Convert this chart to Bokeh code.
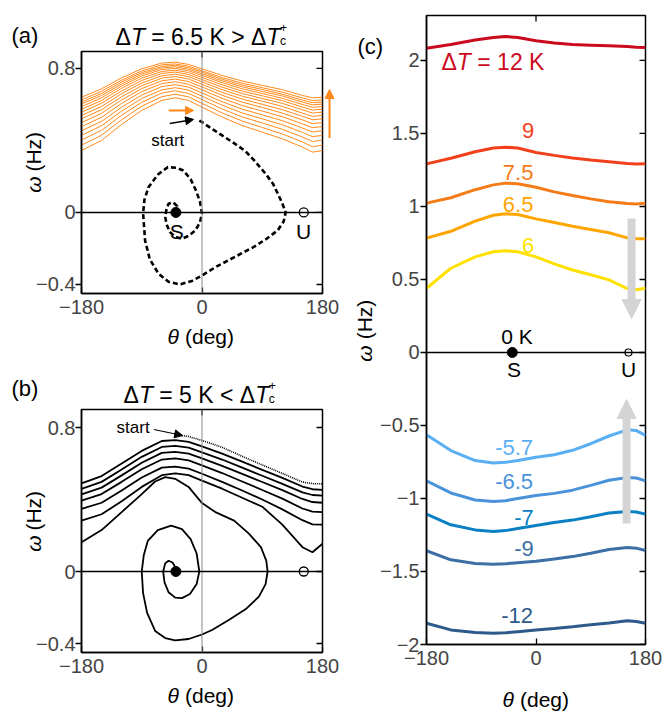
import math
from bokeh.plotting import figure
from bokeh.models import Range1d, FixedTicker, Label, Arrow, NormalHead, Span
from bokeh.layouts import row, column
from bokeh.embed import file_html
from bokeh.resources import INLINE

FONT = "Liberation Sans"

# ------------------------------------------------------------------ data
# fixed points (deg)
S_theta = -39
U_theta = 152

# (a) orange trajectory passes, omega at orange_theta
orange_theta = [-180, -150, -120, -90, -60, -40, -20, 0, 30, 60, 90, 120, 150, 165, 180]
orange_omega = [
    [0.344, 0.400, 0.489, 0.567, 0.622, 0.637, 0.622, 0.585, 0.530, 0.483, 0.446, 0.409, 0.363, 0.335, 0.344],
    [0.374, 0.429, 0.515, 0.590, 0.643, 0.657, 0.642, 0.606, 0.553, 0.508, 0.472, 0.436, 0.392, 0.365, 0.374],
    [0.402, 0.456, 0.540, 0.612, 0.663, 0.676, 0.661, 0.627, 0.575, 0.531, 0.497, 0.462, 0.419, 0.394, 0.402],
    [0.428, 0.482, 0.563, 0.633, 0.681, 0.693, 0.679, 0.646, 0.596, 0.553, 0.520, 0.487, 0.445, 0.421, 0.428],
    [0.454, 0.506, 0.585, 0.652, 0.699, 0.710, 0.696, 0.664, 0.615, 0.574, 0.542, 0.510, 0.469, 0.447, 0.454],
    [0.477, 0.529, 0.606, 0.671, 0.716, 0.726, 0.712, 0.681, 0.634, 0.594, 0.563, 0.532, 0.492, 0.471, 0.477],
    [0.499, 0.551, 0.625, 0.688, 0.731, 0.741, 0.727, 0.697, 0.651, 0.613, 0.583, 0.552, 0.514, 0.494, 0.499],
    [0.520, 0.571, 0.643, 0.704, 0.746, 0.755, 0.741, 0.712, 0.667, 0.630, 0.601, 0.571, 0.534, 0.515, 0.520],
    [0.539, 0.589, 0.660, 0.719, 0.759, 0.768, 0.754, 0.726, 0.682, 0.646, 0.618, 0.589, 0.552, 0.534, 0.539],
    [0.557, 0.607, 0.675, 0.733, 0.772, 0.780, 0.766, 0.738, 0.696, 0.661, 0.633, 0.606, 0.570, 0.552, 0.557],
    [0.573, 0.622, 0.690, 0.746, 0.783, 0.790, 0.777, 0.750, 0.709, 0.674, 0.648, 0.621, 0.585, 0.569, 0.573],
    [0.588, 0.637, 0.703, 0.758, 0.794, 0.800, 0.787, 0.761, 0.721, 0.687, 0.661, 0.634, 0.600, 0.584, 0.588],
    [0.602, 0.650, 0.714, 0.768, 0.803, 0.809, 0.796, 0.770, 0.731, 0.698, 0.672, 0.647, 0.613, 0.598, 0.602],
    [0.613, 0.661, 0.725, 0.777, 0.811, 0.817, 0.804, 0.779, 0.740, 0.708, 0.683, 0.657, 0.624, 0.610, 0.613],
    [0.625, 0.673, 0.735, 0.786, 0.820, 0.825, 0.812, 0.787, 0.749, 0.718, 0.693, 0.668, 0.636, 0.622, 0.625],
    [0.640, 0.687, 0.748, 0.798, 0.830, 0.835, 0.822, 0.798, 0.761, 0.730, 0.706, 0.682, 0.650, 0.637, 0.640],
]

# (a) black dashed trajectory spiralling into S
a_traj_theta = [-4, 19, 49, 65, 78, 95, 106, 113, 120, 125, 122, 113, 95, 78, 50, 20, 0, -15, -33, -50,
                -65, -78, -85, -88, -86, -80, -66, -51, -38, -28, -17, -9, -3, 0, -3, -10, -20, -30,
                -40, -48, -53, -55, -53, -50, -43, -37, -39]
a_traj_omega = [0.511, 0.455, 0.382, 0.34, 0.289, 0.215, 0.16, 0.106, 0.05, 0.0, -0.05, -0.1, -0.15, -0.19,
                -0.245, -0.304, -0.35, -0.38, -0.4, -0.385, -0.34, -0.26, -0.156, -0.005, 0.07, 0.14, 0.21,
                0.252, 0.248, 0.233, 0.185, 0.122, 0.06, -0.005, -0.055, -0.1, -0.13, -0.146, -0.135,
                -0.109, -0.065, -0.024, 0.02, 0.048, 0.056, 0.035, 0.0]

# (b) trajectory: first (dotted) pass from the start point
b_start_theta = [-30, -20, 0, 30, 60, 90, 120, 150, 165, 180]
b_start_omega = [0.755, 0.75, 0.728, 0.69, 0.64, 0.592, 0.545, 0.497, 0.488, 0.487]
# (b) later full passes
b_pass_theta = [-180, -150, -120, -90, -60, -40, -20, 0, 30, 60, 90, 120, 150, 165, 180]
b_pass_omega = [
    [0.490, 0.530, 0.600, 0.670, 0.725, 0.730, 0.720, 0.695, 0.655, 0.610, 0.565, 0.520, 0.472, 0.457, 0.454],
    [0.459, 0.498, 0.567, 0.637, 0.692, 0.698, 0.688, 0.662, 0.622, 0.577, 0.532, 0.487, 0.440, 0.425, 0.422],
    [0.428, 0.466, 0.534, 0.604, 0.659, 0.665, 0.655, 0.628, 0.587, 0.542, 0.497, 0.452, 0.403, 0.386, 0.382],
    [0.394, 0.430, 0.498, 0.568, 0.622, 0.628, 0.617, 0.590, 0.547, 0.500, 0.453, 0.405, 0.350, 0.333, 0.330],
    [0.348, 0.382, 0.450, 0.522, 0.577, 0.583, 0.572, 0.543, 0.498, 0.450, 0.400, 0.345, 0.285, 0.262, 0.260],
    [0.283, 0.318, 0.390, 0.470, 0.535, 0.545, 0.535, 0.505, 0.460, 0.410, 0.360, 0.260, 0.135, 0.107, 0.154],
]
# (b) last pass and spiral into S
b_spiral_theta = [-180, -150, -120, -90, -70, -55, -40, -20, 0, 20, 48, 70, 88, 96, 98, 95, 85, 65, 40, 15, 0,
                  -20, -40, -55, -70, -82, -88, -90, -87, -81, -66, -46, -30, -17, -8, -4, -8, -18, -30, -40,
                  -50, -56, -58, -55, -50, -44, -40, -39]
b_spiral_omega = [0.163, 0.23, 0.33, 0.43, 0.5, 0.524, 0.515, 0.47, 0.38, 0.33, 0.283, 0.21, 0.135, 0.06, 0.0,
                  -0.07, -0.14, -0.21, -0.27, -0.325, -0.35, -0.375, -0.383, -0.37, -0.33, -0.23, -0.12, 0.0,
                  0.09, 0.17, 0.23, 0.255, 0.235, 0.18, 0.1, 0.0, -0.07, -0.125, -0.148, -0.145, -0.115,
                  -0.06, 0.0, 0.045, 0.06, 0.05, 0.025, 0.0]

# (c) running-state curves for several temperature differences
c_theta = [-180, -140, -100, -70, -50, -30, 0, 30, 60, 90, 120, 150, 165, 180]
c_labels = ["12", "9", "7.5", "6.5", "6", "-5.7", "-6.5", "-7", "-9", "-12"]
c_omega = [
    [2.084, 2.11, 2.14, 2.158, 2.164, 2.158, 2.135, 2.12, 2.11, 2.105, 2.1, 2.095, 2.09, 2.089],
    [1.292, 1.33, 1.375, 1.40, 1.406, 1.40, 1.37, 1.35, 1.332, 1.318, 1.306, 1.294, 1.291, 1.292],
    [1.023, 1.06, 1.115, 1.148, 1.16, 1.155, 1.132, 1.10, 1.075, 1.052, 1.032, 1.02, 1.017, 1.023],
    [0.783, 0.83, 0.90, 0.94, 0.95, 0.945, 0.915, 0.89, 0.865, 0.843, 0.82, 0.785, 0.779, 0.779],
    [0.44, 0.577, 0.655, 0.69, 0.697, 0.69, 0.655, 0.607, 0.565, 0.532, 0.497, 0.438, 0.43, 0.44],
    [-0.564, -0.672, -0.74, -0.757, -0.752, -0.74, -0.718, -0.70, -0.67, -0.625, -0.572, -0.53, -0.535, -0.568],
    [-0.879, -0.962, -1.01, -1.02, -1.015, -1.0, -0.98, -0.965, -0.943, -0.91, -0.875, -0.856, -0.86, -0.879],
    [-1.107, -1.18, -1.215, -1.226, -1.22, -1.205, -1.185, -1.165, -1.148, -1.125, -1.10, -1.089, -1.092, -1.107],
    [-1.358, -1.42, -1.445, -1.45, -1.447, -1.44, -1.43, -1.415, -1.398, -1.375, -1.35, -1.336, -1.34, -1.356],
    [-1.854, -1.90, -1.918, -1.923, -1.92, -1.912, -1.90, -1.89, -1.878, -1.865, -1.852, -1.838, -1.842, -1.854],
]
c_colors = ["#CC0A1E", "#F2401C", "#F57B19", "#FFA500", "#FFE100",
            "#5AAEF2", "#4A92DA", "#0A80C4", "#3B6FA6", "#2D5A8A"]

# tick labels
ab_xticks = [-180, 0, 180]
ab_xtick_labels = ["\u2212180", "0", "180"]
ab_yticks = [-0.4, 0, 0.8]
ab_ytick_labels = ["\u22120.4", "0", "0.8"]
c_yticks = [-2, -1.5, -1, -0.5, 0, 0.5, 1, 1.5, 2]
c_ytick_labels = ["\u22122", "\u22121.5", "\u22121", "\u22120.5", "0", "0.5", "1", "1.5", "2"]
top_ticks = [0]

ORANGE = "#FF8A1C"
GRAY_ARROW = "#D4D4D4"

# ------------------------------------------------------------------ helpers
# page pixel -> data coordinate converters for the plotting boxes (layout only)
def pa(px, py):
    return (-180 + (px - 79) * 360 / 243, (212 - py) / 180)

def pb(px, py):
    return (-180 + (px - 79) * 360 / 243, (571 - py) / 180)

def pc(px, py):
    return (-180 + (px - 425) * 360 / 220, (352 - py) / 146)

def ident(px, py):
    return (px, py)


def make_fig(width, height, ylo, yhi, left, right, top, bottom):
    p = figure(width=width, height=height, x_range=Range1d(-180, 180), y_range=Range1d(ylo, yhi),
               output_backend="svg", toolbar_location=None,
               min_border_left=left, min_border_right=right,
               min_border_top=top, min_border_bottom=bottom)
    p.grid.visible = False
    p.outline_line_color = "black"
    p.outline_line_width = 1.5
    p.background_fill_color = "white"
    p.border_fill_color = None   # transparent margins: the label strip below shows through
    return p


def blank(width, height, x0, y0, transparent=False):
    # text-only strip; its data coordinates are page pixels (y downwards)
    p = figure(width=width, height=height, x_range=Range1d(x0, x0 + width),
               y_range=Range1d(y0 + height, y0), x_axis_type=None, y_axis_type=None,
               output_backend="svg", toolbar_location=None, min_border=0)
    p.outline_line_color = None
    if transparent:
        p.background_fill_color = None
        p.border_fill_color = None
    else:
        p.background_fill_color = "white"
        p.border_fill_color = "white"
    return p


def set_axes(p, xticks, xlabels, yticks, ylabels, yhi, ystand):
    xa = p.xaxis[0]
    xa.ticker = FixedTicker(ticks=xticks)
    xa.major_label_overrides = dict(zip(xticks, xlabels))
    xa.major_tick_in = 6
    xa.major_tick_out = 0
    xa.minor_tick_line_color = None
    xa.major_label_text_font = FONT
    xa.major_label_text_font_size = "20px"
    xa.major_label_standoff = 6
    xa.axis_line_width = 1.5
    xa.major_tick_line_width = 1.3

    ya = p.yaxis[0]
    ya.ticker = FixedTicker(ticks=yticks)
    ya.major_label_overrides = dict(zip(yticks, ylabels))
    ya.major_tick_in = 0
    ya.major_tick_out = 6
    ya.minor_tick_line_color = None
    ya.major_label_text_font = FONT
    ya.major_label_text_font_size = "20px"
    ya.major_label_standoff = ystand
    ya.axis_line_width = 1.5
    ya.major_tick_line_width = 1.3

    # inward ticks on the right and top edges of the box
    p.ray(x=[180] * len(yticks), y=yticks, length=6, length_units="screen", angle=math.pi,
          line_color="black", line_width=1.3)
    p.ray(x=top_ticks, y=[yhi] * len(top_ticks), length=6, length_units="screen", angle=-math.pi / 2,
          line_color="black", line_width=1.3)


def txt(p, conv, px, py, text, size=21, color="black", style="normal",
        align="left", baseline="middle", angle=0.0):
    x, y = conv(px, py)
    p.add_layout(Label(x=x, y=y, text=text, text_font=FONT, text_font_size=f"{size}px",
                       text_color=color, text_font_style=style, text_align=align,
                       text_baseline=baseline, angle=angle))


def arrow(p, conv, p0, p1, color, width, head):
    x0, y0 = conv(*p0)
    x1, y1 = conv(*p1)
    p.add_layout(Arrow(end=NormalHead(size=head, fill_color=color, line_color=color, line_width=1),
                       x_start=x0, y_start=y0, x_end=x1, y_end=y1,
                       line_color=color, line_width=width))


def title_row(p, x0, py, middle, mid_width, size=23):
    txt(p, ident, x0, py, "\u0394", size=size)
    txt(p, ident, x0 + 15.4, py, "T", size=size, style="italic")
    txt(p, ident, x0 + 35.8, py, middle, size=size)
    t2 = x0 + 35.8 + mid_width
    txt(p, ident, t2, py, "T", size=size, style="italic")
    txt(p, ident, t2 + 13.6, py + 4, "c", size=12)
    txt(p, ident, t2 + 13.6, py - 9, "+", size=12)


def xlabel(p, px_center, py, size=21):
    txt(p, ident, px_center - 33, py, "\u03b8", size=size, style="italic")
    txt(p, ident, px_center - 15.5, py, "(deg)", size=size)


def ylabel(p, px_base, py_bottom, size=21):
    txt(p, ident, px_base, py_bottom, "\u03c9", size=size, style="italic",
        baseline="alphabetic", angle=math.pi / 2)
    txt(p, ident, px_base, py_bottom - 24, "(Hz)", size=size,
        baseline="alphabetic", angle=math.pi / 2)

# ------------------------------------------------------------------ panel (a)
ta = blank(340, 49, 0, 0)
txt(ta, ident, 11, 35, "(a)", size=22)
title_row(ta, 115, 36, "= 6.5 K > \u0394", 115.1)

# label strip under the left margin of (a)
al = blank(80, 274, 0, 49)
ylabel(al, 33, 209)

fa = make_fig(307, 274, -0.45, 0.894, 46, 18, 2, 30)
fa.margin = (0, 0, 0, -47)
set_axes(fa, ab_xticks, ab_xtick_labels, ab_yticks, ab_ytick_labels, 0.894, 0)
fa.add_layout(Span(location=0, dimension="height", line_color="#8a8a8a", line_width=1))
fa.add_layout(Span(location=0, dimension="width", line_color="black", line_width=1.4))
fa.multi_line(xs=[orange_theta] * len(orange_omega), ys=orange_omega, line_color=ORANGE, line_width=1)
fa.line(a_traj_theta, a_traj_omega, line_color="black", line_width=2.6, line_dash="5 3")
fa.scatter([S_theta], [0], size=10, color="black")
fa.scatter([U_theta], [0], size=9, fill_color="white", line_color="black", line_width=1.3)
txt(fa, pa, 166, 140, "start", size=17, align="center")
txt(fa, pa, 175, 231, "S", size=21, align="center")
txt(fa, pa, 303, 231, "U", size=21, align="center")
arrow(fa, pa, (167, 110), (192, 110), ORANGE, 2, 8)
arrow(fa, pa, (168, 123), (192, 119), "black", 1.5, 8)

# transparent strip laid over the right margin of (a) for the orange arrow
aa = blank(16, 274, 324, 49, transparent=True)
arrow(aa, ident, (329, 147), (329, 92), ORANGE, 2, 9)
aa.margin = (0, 0, 0, -16)

xla = blank(340, 32, 0, 323)
xlabel(xla, 200, 336)

# ------------------------------------------------------------------ panel (b)
tb = blank(340, 52, 0, 355)
txt(tb, ident, 11, 388, "(b)", size=22)
title_row(tb, 123, 394, "= 5 K < \u0394", 95.9)

bl = blank(80, 275, 0, 407)
ylabel(bl, 33, 568)

fb = make_fig(307, 275, -0.45, 0.9, 46, 18, 2, 30)
fb.margin = (0, 0, 0, -47)
set_axes(fb, ab_xticks, ab_xtick_labels, ab_yticks, ab_ytick_labels, 0.9, 0)
fb.add_layout(Span(location=0, dimension="height", line_color="#8a8a8a", line_width=1))
fb.add_layout(Span(location=0, dimension="width", line_color="black", line_width=1.4))
fb.line(b_start_theta, b_start_omega, line_color="black", line_width=1.6, line_dash="1 1")
fb.multi_line(xs=[b_pass_theta] * len(b_pass_omega), ys=b_pass_omega, line_color="black", line_width=1.8)
fb.line(b_spiral_theta, b_spiral_omega, line_color="black", line_width=1.8)
fb.scatter([S_theta], [0], size=10, color="black")
fb.scatter([U_theta], [0], size=9, fill_color="white", line_color="black", line_width=1.3)
txt(fb, pb, 131, 427, "start", size=17, align="center")
arrow(fb, pb, (152, 429), (181, 435), "black", 1.2, 8)

xlb = blank(340, 30, 0, 682)
xlabel(xlb, 200, 695)

# ------------------------------------------------------------------ panel (c)
cl = blank(85, 674, 340, 0)
txt(cl, ident, 357, 33, "(c)", size=22)
ylabel(cl, 364, 371)

fc = make_fig(291, 674, -2.0, 2.308, 48, 23, 15, 30)
fc.margin = (0, 0, 0, -48)
set_axes(fc, ab_xticks, ab_xtick_labels, c_yticks, c_ytick_labels, 2.308, 1)
fc.add_layout(Span(location=0, dimension="width", line_color="black", line_width=1.4))
for ys, col in zip(c_omega, c_colors):
    fc.line(c_theta, ys, line_color=col, line_width=3)
fc.scatter([S_theta], [0], size=10, color="black")
fc.scatter([U_theta], [0], size=7, fill_color="white", line_color="black", line_width=1.2)

arrow(fc, pc, (631, 218), (631, 318), GRAY_ARROW, 8, 19)
arrow(fc, pc, (626, 523), (626, 399), GRAY_ARROW, 8, 19)

txt(fc, pc, 440, 62, "\u0394", size=23, color=c_colors[0])
txt(fc, pc, 455.4, 62, "T", size=23, style="italic", color=c_colors[0])
txt(fc, pc, 476, 62, "= 12 K", size=23, color=c_colors[0])
label_pos = [None, (527, 130), (517, 172), (517, 204), (527, 245),
             (513, 447), (513, 481), (523, 517), (523, 548), (516, 615)]
for lab, pos, col in zip(c_labels, label_pos, c_colors):
    if pos is not None:
        txt(fc, pc, pos[0], pos[1], lab, size=22, color=col, align="center")
txt(fc, pc, 516, 336, "0 K", size=21, align="center")
txt(fc, pc, 513, 369, "S", size=21, align="center")
txt(fc, pc, 628, 369, "U", size=21, align="center")

xlc = blank(328, 38, 340, 674)
xlabel(xlc, 535, 699)

left_col = column(ta, row(al, fa, aa), xla, tb, row(bl, fb), xlb)
right_col = column(row(cl, fc), xlc)
layout = row(left_col, right_col)
open("out.html", "w").write(file_html(layout, INLINE))
